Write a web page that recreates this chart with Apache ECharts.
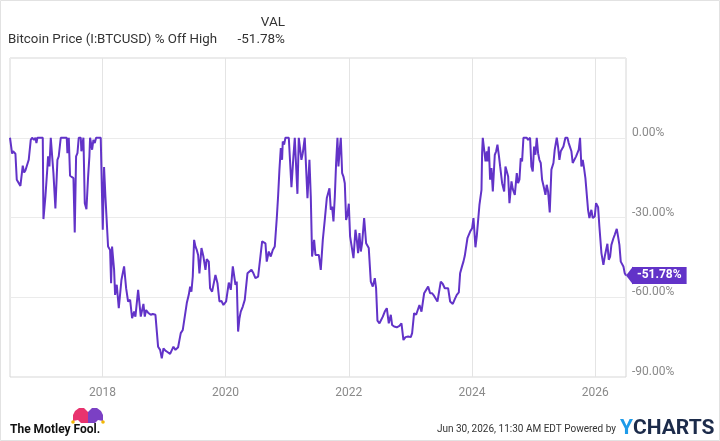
<!DOCTYPE html>
<html>
<head>
<meta charset="utf-8">
<script src="https://cdn.jsdelivr.net/npm/echarts@6.0.0/dist/echarts.min.js"></script>
<style>
  html, body { margin: 0; padding: 0; background: #fff; }
  #main { width: 720px; height: 441px; }
</style>
</head>
<body>
<div id="main"></div>
<script>
var myChart = echarts.init(document.getElementById('main'));

// % off all-time high (dates as decimal years)
var dates2016 = [2016.5, 2016.534, 2016.55, 2016.588, 2016.61, 2016.642, 2016.669, 2016.707, 2016.729, 2016.75,
    2016.772, 2016.804, 2016.837, 2016.859, 2016.891, 2016.913, 2016.929, 2016.945, 2017.032, 2017.043,
    2017.075, 2017.108, 2017.118, 2017.14, 2017.162, 2017.183, 2017.205, 2017.237, 2017.27, 2017.291,
    2017.324, 2017.421, 2017.432, 2017.454, 2017.475, 2017.53, 2017.551, 2017.573, 2017.595, 2017.616,
    2017.649, 2017.659, 2017.692, 2017.714, 2017.741, 2017.768, 2017.789, 2017.8, 2017.822, 2017.833,
    2017.854, 2017.876, 2017.898, 2017.973, 2018.006, 2018.027, 2018.049, 2018.092];
var off2016 = [0, -6.0, -5.1, -6.0, -15.8, -16.4, -18.1, -10.5, -13.1, -12.3,
    -11.8, -8.3, -0.8, 0, -0.8, 0, -2.0, 0, 0, -30.6,
    -22.1, -10.8, -7.0, -10.8, 0, 0, -13.3, -26.6, -8.3, -7.0,
    0, 0, -5.8, 0, -14.3, -15.2, -35.6, -7.0, -5.8, 0,
    0, -5.1, 0, -24.6, -26.9, -14.6, -7.0, 0, 0, -4.5,
    -0.8, -2.0, 0, 0, -34.6, -11.0, -22.1, -40.9];

var dates2018 = [2018.125, 2018.141, 2018.157, 2018.174, 2018.19, 2018.206, 2018.233, 2018.266, 2018.309, 2018.352,
    2018.385, 2018.417, 2018.45, 2018.482, 2018.515, 2018.536, 2018.58, 2018.623, 2018.666, 2018.688,
    2018.709, 2018.742, 2018.785, 2018.818, 2018.861, 2018.904, 2018.937, 2018.964, 2018.991, 2019.023,
    2019.056, 2019.099, 2019.153, 2019.186, 2019.229, 2019.25, 2019.272, 2019.305, 2019.326, 2019.37,
    2019.402, 2019.424, 2019.445, 2019.467, 2019.489, 2019.51, 2019.532, 2019.554, 2019.575, 2019.608,
    2019.64, 2019.673, 2019.694, 2019.727, 2019.748];
var off2018 = [-42.2, -54.7, -40.9, -40.3, -49.7, -59.1, -55.3, -64.1, -53.5, -48.4,
    -56.6, -61.6, -61.0, -67.9, -65.4, -67.3, -57.2, -67.3, -62.5, -67.3,
    -64.8, -65.8, -66.6, -66.3, -66.6, -78.6, -79.8, -83.0, -79.2, -80.1,
    -80.6, -81.3, -78.6, -79.8, -78.8, -78.3, -73.5, -72.3, -71.9, -62.2,
    -59.1, -56.0, -57.9, -52.2, -38.4, -40.9, -42.2, -44.1, -51.0, -41.5,
    -44.7, -49.7, -45.7, -46.6, -56.6];

var dates2020 = [2019.781, 2019.803, 2019.835, 2019.868, 2019.9, 2019.933, 2019.965, 2020.008, 2020.052, 2020.084,
    2020.117, 2020.138, 2020.16, 2020.181, 2020.203, 2020.225, 2020.246, 2020.279, 2020.311, 2020.355,
    2020.387, 2020.42, 2020.452, 2020.484, 2020.528, 2020.56, 2020.593, 2020.625, 2020.647, 2020.668,
    2020.701, 2020.733, 2020.766, 2020.798, 2020.831, 2020.852, 2020.874, 2020.896, 2020.917, 2020.928,
    2020.95, 2020.971, 2021.026, 2021.069, 2021.101, 2021.123, 2021.145, 2021.166, 2021.188, 2021.21,
    2021.231, 2021.253, 2021.285, 2021.329, 2021.361, 2021.383, 2021.404];
var off2020 = [-57.9, -58.5, -51.6, -54.7, -61.6, -61.4, -62.9, -61.6, -54.5, -57.2,
    -48.4, -49.1, -55.3, -54.1, -72.9, -67.9, -65.4, -63.5, -61.0, -51.0,
    -51.6, -49.7, -51.0, -52.8, -52.2, -51.6, -39.0, -38.7, -39.7, -46.6,
    -42.8, -44.7, -42.2, -40.9, -30.2, -22.1, -12.0, -3.9, -8.3, -1.4,
    -2.6, 0, 0, -18.6, -7.0, 0, 0, -21.1, 0, 0,
    -8.3, -5.8, 0, -22.7, -8.3, -22.1, -44.7];

var dates2021 = [2021.437, 2021.459, 2021.48, 2021.513, 2021.545, 2021.578, 2021.61, 2021.643, 2021.664, 2021.686,
    2021.708, 2021.729, 2021.751, 2021.773, 2021.794, 2021.816, 2021.832, 2021.848, 2021.87, 2021.892,
    2021.913, 2021.935, 2021.956, 2021.978, 2022.0, 2022.021, 2022.043, 2022.076, 2022.108, 2022.13,
    2022.151, 2022.173, 2022.195, 2022.216, 2022.249, 2022.281, 2022.303, 2022.324, 2022.357, 2022.389,
    2022.422, 2022.443, 2022.465, 2022.498, 2022.53, 2022.552, 2022.584, 2022.617, 2022.649, 2022.682,
    2022.703, 2022.736, 2022.779, 2022.822, 2022.855, 2022.887, 2022.92, 2022.963, 2023.006, 2023.028,
    2023.06];
var off2021 = [-38.4, -44.1, -44.7, -44.1, -49.7, -38.4, -30.9, -22.7, -22.1, -19.0,
    -27.1, -25.9, -31.5, -22.1, -9.5, 0, -10.8, -5.8, 0, -13.3,
    -14.6, -17.1, -30.9, -29.0, -24.8, -37.1, -37.8, -45.3, -34.6, -38.4,
    -43.4, -35.9, -42.8, -39.7, -30.2, -39.7, -40.3, -41.5, -54.1, -56.0,
    -52.8, -56.6, -68.8, -69.8, -70.0, -67.3, -65.4, -64.1, -69.8, -66.6,
    -70.4, -71.0, -71.3, -70.8, -69.8, -76.1, -75.0, -74.8, -75.0, -73.5,
    -66.0];

var dates2023 = [2023.093, 2023.12, 2023.147, 2023.18, 2023.223, 2023.255, 2023.288, 2023.32, 2023.353, 2023.385,
    2023.407, 2023.439, 2023.461, 2023.493, 2023.526, 2023.558, 2023.612, 2023.645, 2023.688, 2023.721,
    2023.753, 2023.786, 2023.807, 2023.84, 2023.861, 2023.883, 2023.905, 2023.926, 2023.948, 2023.97,
    2024.002, 2024.024, 2024.056, 2024.078, 2024.099, 2024.121, 2024.154, 2024.164, 2024.175, 2024.197,
    2024.219, 2024.24, 2024.251, 2024.273, 2024.294, 2024.316, 2024.338, 2024.37, 2024.392, 2024.413,
    2024.435, 2024.457, 2024.489, 2024.522, 2024.543, 2024.565, 2024.587, 2024.608, 2024.641, 2024.662,
    2024.695, 2024.727];
var off2023 = [-66.6, -67.3, -62.9, -65.4, -58.5, -59.1, -56.0, -58.5, -58.5, -59.5,
    -59.1, -61.6, -61.0, -54.1, -55.0, -56.6, -56.6, -61.6, -62.5, -60.7,
    -59.1, -58.2, -51.0, -48.2, -46.6, -44.4, -44.1, -37.8, -37.4, -35.3,
    -34.0, -30.2, -41.2, -36.9, -36.5, -25.2, -19.6, -5.8, 0, 0,
    -8.9, -5.1, -8.9, -3.3, -15.8, -11.4, -20.2, -6.4, -5.1, -2.6,
    -6.4, -10.8, -17.1, -20.2, -10.8, -10.2, -14.6, -24.6, -16.4, -19.3,
    -21.5, -13.3];

var dates2024 = [2024.748, 2024.77, 2024.791, 2024.813, 2024.835, 2024.889, 2024.91, 2024.943, 2024.964, 2024.986,
    2025.008, 2025.029, 2025.051, 2025.073, 2025.094, 2025.116, 2025.138, 2025.17, 2025.192, 2025.213,
    2025.235, 2025.262, 2025.289, 2025.322, 2025.343, 2025.376, 2025.397, 2025.419, 2025.441, 2025.462,
    2025.484, 2025.516, 2025.549, 2025.57, 2025.592, 2025.614, 2025.635, 2025.657, 2025.69, 2025.711,
    2025.733, 2025.754, 2025.776, 2025.798, 2025.819, 2025.841, 2025.863, 2025.884, 2025.906, 2025.938,
    2025.96, 2025.993, 2026.014, 2026.047, 2026.068, 2026.101, 2026.133, 2026.155, 2026.177, 2026.198,
    2026.22, 2026.242, 2026.263, 2026.296, 2026.317, 2026.35, 2026.371, 2026.393, 2026.415, 2026.436,
    2026.458, 2026.48, 2026.5];
var off2024 = [-17.1, -15.8, -7.7, -8.9, 0, 0, -0.8, 0, -10.8, -12.7,
    -3.3, -6.4, 0, -5.8, -8.3, -9.5, -15.8, -19.0, -21.5, -17.7,
    -20.2, -28.1, -12.0, -9.5, -4.5, 0, -3.3, -8.3, -5.1, -5.8,
    -3.3, 0, 0, -2.0, -1.4, -5.1, -9.5, -8.9, -7.0, -6.4,
    -4.5, 0, -10.8, -8.3, -11.4, -15.2, -15.2, -27.1, -30.2, -27.1,
    -30.2, -29.6, -24.6, -26.1, -33.4, -43.4, -47.8, -44.7, -44.4, -39.9,
    -45.9, -44.7, -40.3, -37.8, -36.5, -34.3, -37.1, -40.3, -46.6, -47.2,
    -48.4, -51.0, -51.78];

var yearTicks = [2018, 2020, 2022, 2024, 2026];
var lastValue = -51.78;

var dates = [].concat(dates2016, dates2018, dates2020, dates2021, dates2023, dates2024);
var offHigh = [].concat(off2016, off2018, off2020, off2021, off2023, off2024);
var data = dates.map(function (d, i) { return [d, offHigh[i]]; });

var purple = '#6233c8';
var fontFamily = 'Roboto, sans-serif';

var option = {
    animation: false,
    grid: {
        left: 10, right: 94, top: 58, bottom: 64,
        show: true,
        borderColor: '#d6d6d6',
        borderWidth: 1,
        outerBoundsMode: 'none'
    },
    xAxis: {
        type: 'value',
        min: 2016.5,
        max: 2026.5,
        axisLine: {show: false},
        axisTick: {show: false, customValues: yearTicks},
        axisLabel: {
            customValues: yearTicks,
            color: '#8a8a8a',
            fontSize: 12,
            fontFamily: fontFamily,
            margin: 10,
            formatter: function (v) { return String(v); }
        },
        splitLine: {show: true, lineStyle: {color: '#e4e4e4', width: 1}}
    },
    yAxis: {
        type: 'value',
        position: 'right',
        min: -90,
        max: 30,
        interval: 30,
        axisLine: {show: false},
        axisTick: {show: false},
        axisLabel: {
            color: '#8a8a8a',
            fontSize: 12,
            fontFamily: fontFamily,
            margin: 6,
            verticalAlign: 'bottom',
            padding: [0, 0, -1, 0],
            formatter: function (v) {
                return v > 0 ? '' : v.toFixed(2) + '%';
            }
        },
        splitLine: {show: true, lineStyle: {color: '#ebebeb', width: 1}}
    },
    series: [{
        type: 'line',
        data: data,
        showSymbol: false,
        clip: false,
        lineStyle: {color: purple, width: 2},
        itemStyle: {color: purple},
        endLabel: {
            show: true,
            formatter: lastValue.toFixed(2) + '%',
            color: '#fff',
            fontWeight: 'bold',
            fontSize: 12,
            fontFamily: fontFamily,
            backgroundColor: purple,
            padding: [3, 5, 2, 5],
            distance: 6
        },
        markPoint: {
            symbol: 'triangle',
            symbolSize: [18, 7],
            symbolRotate: 90,
            symbolOffset: [3.5, 0],
            itemStyle: {color: purple},
            label: {show: false},
            data: [{coord: [dates[dates.length - 1], lastValue]}]
        }
    }],
    graphic: [
        {
            type: 'rect',
            shape: {x: 0.5, y: 0.5, width: 719, height: 440},
            style: {fill: 'none', stroke: '#e2e2e2', lineWidth: 1},
            silent: true
        },
        {
            type: 'text',
            style: {text: 'Bitcoin Price (I:BTCUSD) % Off High', x: 8, y: 40, fill: '#333',
                font: '13.3px ' + fontFamily, verticalAlign: 'middle'}
        },
        {
            type: 'text',
            style: {text: 'VAL', x: 285, y: 23, fill: '#333', align: 'right',
                font: '13.5px ' + fontFamily, verticalAlign: 'middle'}
        },
        {
            type: 'text',
            style: {text: lastValue.toFixed(2) + '%', x: 285, y: 40, fill: '#333', align: 'right',
                font: '13.5px ' + fontFamily, verticalAlign: 'middle'}
        },
        // Motley Fool jester hat
        {
            type: 'polygon',
            shape: {points: [[73, 421], [73, 415], [75, 411], [79, 408], [84, 408], [88, 412], [88, 423], [81, 423], [78, 420]]},
            style: {fill: '#e8336e'}
        },
        {
            type: 'polygon',
            shape: {points: [[103, 421], [103, 415], [101, 411], [97, 408], [92, 408], [88, 412], [88, 423], [95, 423], [98, 420]]},
            style: {fill: '#7b40c4'}
        },
        {type: 'circle', shape: {cx: 73, cy: 422, r: 1.8}, style: {fill: '#f2b705'}},
        {type: 'circle', shape: {cx: 103, cy: 422, r: 1.8}, style: {fill: '#f2b705'}},
        {
            type: 'text',
            style: {text: 'The Motley Fool.', x: 10, y: 430, fill: '#111',
                font: 'bold 12px ' + fontFamily, verticalAlign: 'middle'}
        },
        {
            type: 'text',
            style: {text: 'Jun 30, 2026, 11:30 AM EDT Powered by', x: 616, y: 429, fill: '#333',
                align: 'right', font: '10px ' + fontFamily, verticalAlign: 'middle'}
        },
        {
            type: 'text',
            style: {
                text: '{y|Y}{c|CHARTS}', x: 620, y: 429, verticalAlign: 'middle',
                rich: {
                    y: {fill: '#1e9be9', font: 'bold 21px ' + fontFamily},
                    c: {fill: '#1c2b4a', font: 'bold 21px ' + fontFamily}
                }
            }
        }
    ]
};

myChart.setOption(option);
</script>
</body>
</html>
